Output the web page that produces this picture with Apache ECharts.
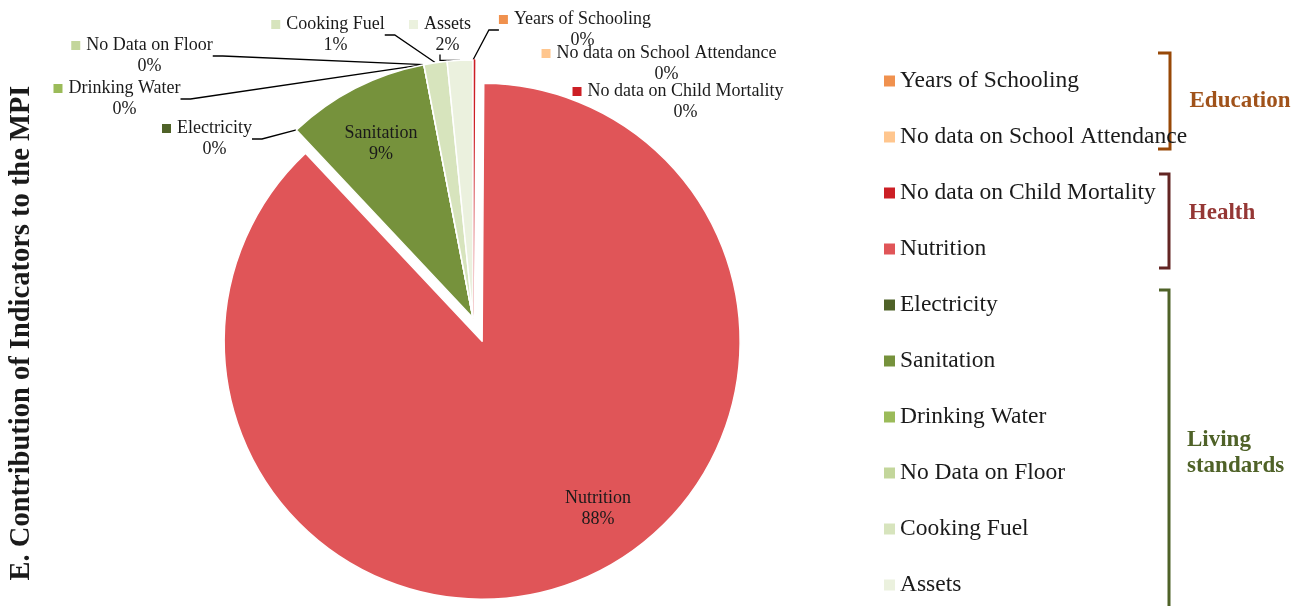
<!DOCTYPE html>
<html>
<head>
<meta charset="utf-8">
<script src="https://cdn.jsdelivr.net/npm/echarts@6/dist/echarts.min.js"></script>
<style>
  html, body { margin: 0; padding: 0; background: #ffffff; }
  #chart { width: 1305px; height: 606px; }
</style>
</head>
<body>
<div id="chart"></div>
<script>
// ---- Data ----
const categories = [
  'Years of Schooling',
  'No data on School Attendance',
  'No data on Child Mortality',
  'Nutrition',
  'Electricity',
  'Sanitation',
  'Drinking Water',
  'No Data on Floor',
  'Cooking Fuel',
  'Assets'
];
const values = [0, 0, 0.1, 87.9, 0, 8.95, 0, 0, 1.45, 1.6];
const colors = [
  '#F0914E', '#FFC68E', '#CC1F25', '#E05558',
  '#4F6228', '#76923C', '#9BBB59', '#C3D69B', '#D7E4BD', '#EBF1DE'
];
const groups = ['Education', 'Health', 'Living\nstandards'];
const explodedName = 'Nutrition';

// ---- Label placement (text positions only) ----
const labelPos = [
  [575, 30], [659, 64], [678, 102], [598, 509], [207, 139],
  [381, 144], [117, 99], [142, 56], [328, 35], [440, 35]
];
const insideLabels = ['Nutrition', 'Sanitation'];
const noLineLabels = ['No data on School Attendance', 'No data on Child Mortality'];

const FONT = '"Liberation Serif", "Times New Roman", serif';
const CENTER = [473, 318];
const RADIUS = 258;
const EXPLODE = 25;

// Offset of the exploded slice along its bisector (computed from the data)
const total = values.reduce((a, b) => a + b, 0);
const exIdx = categories.indexOf(explodedName);
const before = values.slice(0, exIdx).reduce((a, b) => a + b, 0);
const midAngle = (before + values[exIdx] / 2) / total * 2 * Math.PI;
const exCenter = [CENTER[0] + Math.sin(midAngle) * EXPLODE, CENTER[1] - Math.cos(midAngle) * EXPLODE];

const rich = {
  n: { fontFamily: FONT, fontSize: 18, color: '#1a1a1a', lineHeight: 21, align: 'center' },
  g: { width: 6, height: 9 },
  sp: { width: 15, height: 9 }
};
colors.forEach((c, i) => {
  rich['m' + i] = { width: 9, height: 9, backgroundColor: c, align: 'center' };
});

const HIDDEN = {
  itemStyle: { color: 'rgba(0,0,0,0)', borderWidth: 0 },
  label: { show: false },
  labelLine: { show: false }
};

function buildData(showExploded) {
  return categories.map((name, i) => {
    const isEx = (name === explodedName);
    const item = { name: name, value: values[i] };
    if (isEx !== showExploded) {
      return Object.assign(item, JSON.parse(JSON.stringify(HIDDEN)));
    }
    item.itemStyle = { color: colors[i] };
    if (name === 'No data on Child Mortality') item.itemStyle.borderColor = colors[i];
    if (insideLabels.includes(name)) {
      item.label = { position: 'inside' };
      item.labelLine = { show: false };
    }
    if (noLineLabels.includes(name)) {
      item.labelLine = { show: false };
    }
    return item;
  });
}

const baseSeries = {
  type: 'pie',
  radius: [0, RADIUS],
  startAngle: 90,
  clockwise: true,
  avoidLabelOverlap: false,
  emphasis: { disabled: true },
  itemStyle: { borderColor: '#ffffff', borderWidth: 1.5 },
  label: {
    show: true,
    position: 'outside',
    align: 'center',
    formatter: function (p) {
      const pct = Math.round(p.percent) + '%';
      if (insideLabels.includes(p.name)) {
        return '{n|' + p.name + '}\n{n|' + pct + '}';
      }
      return '{m' + p.dataIndex + '|}{g|}{n|' + p.name + '}\n{sp|}{n|' + pct + '}';
    },
    rich: rich
  },
  labelLine: {
    show: true,
    length: 10,
    length2: 10,
    lineStyle: { color: '#000000', width: 1.3 }
  },
  labelLayout: function (params) {
    const pos = labelPos[params.dataIndex];
    return { x: pos[0], y: pos[1], align: 'center', verticalAlign: 'middle' };
  }
};

const chart = echarts.init(document.getElementById('chart'), null, { renderer: 'canvas' });

const option = {
  animation: false,
  backgroundColor: '#ffffff',
  legend: {
    orient: 'vertical',
    left: 884,
    top: 69,
    padding: 0,
    icon: 'rect',
    itemWidth: 11,
    itemHeight: 11,
    itemGap: 32,
    selectedMode: false,
    data: categories.map((name, i) => ({ name: name, itemStyle: { color: colors[i], borderWidth: 0 } })),
    itemStyle: { borderWidth: 0 },
    textStyle: { fontFamily: FONT, fontSize: 23.5, color: '#1a1a1a', lineHeight: 24 }
  },
  series: [
    Object.assign({}, baseSeries, { name: 'rest', center: CENTER, data: buildData(false) }),
    Object.assign({}, baseSeries, { name: 'exploded', center: exCenter, data: buildData(true) })
  ],
  graphic: [
    {
      type: 'text',
      x: 22, y: 333,
      rotation: Math.PI / 2,
      style: {
        text: 'E. Contribution of Indicators to the MPI',
        font: 'bold 28.5px ' + FONT,
        fill: '#1a1a1a',
        textAlign: 'center',
        textVerticalAlign: 'middle'
      }
    },
    // Education bracket
    {
      type: 'polyline',
      shape: { points: [[1158, 53], [1170, 53], [1170, 149], [1158, 149]] },
      style: { stroke: '#984807', lineWidth: 3, fill: null }
    },
    {
      type: 'text', x: 1240, y: 101,
      style: { text: groups[0], font: 'bold 23px ' + FONT, fill: '#A0521A', textAlign: 'center', textVerticalAlign: 'middle' }
    },
    // Health bracket
    {
      type: 'polyline',
      shape: { points: [[1159, 174], [1169, 174], [1169, 268], [1159, 268]] },
      style: { stroke: '#632523', lineWidth: 3, fill: null }
    },
    {
      type: 'text', x: 1222, y: 213,
      style: { text: groups[1], font: 'bold 23px ' + FONT, fill: '#953735', textAlign: 'center', textVerticalAlign: 'middle' }
    },
    // Living standards bracket
    {
      type: 'polyline',
      shape: { points: [[1159, 290], [1169, 290], [1169, 610]] },
      style: { stroke: '#4F6228', lineWidth: 3, fill: null }
    },
    {
      type: 'text', x: 1187, y: 453,
      style: { text: groups[2], font: 'bold 23px ' + FONT, fill: '#4F6228', textAlign: 'left', textVerticalAlign: 'middle', lineHeight: 26 }
    }
  ]
};

chart.setOption(option);
</script>
</body>
</html>
